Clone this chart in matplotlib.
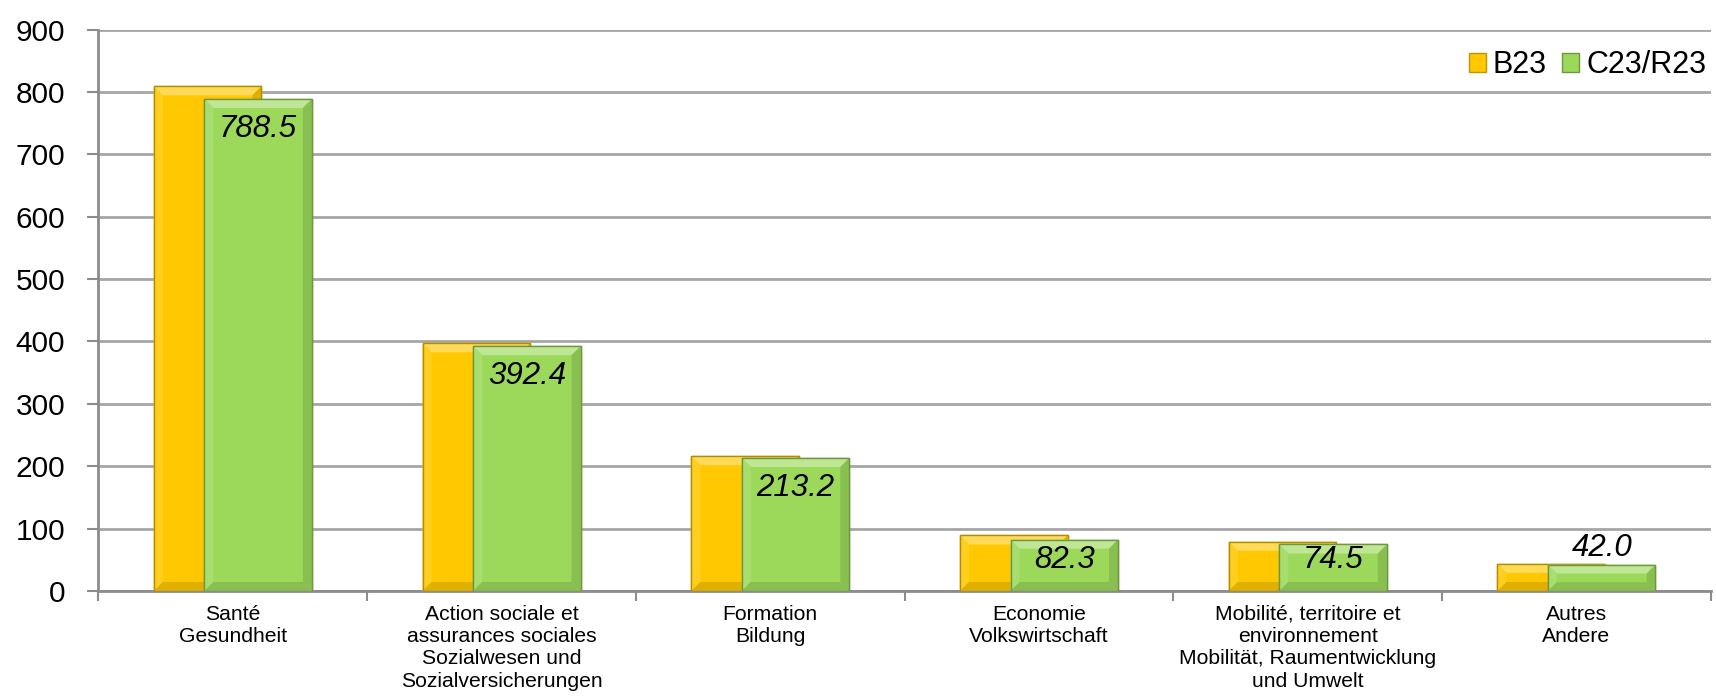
import numpy as np
import matplotlib
matplotlib.use("Agg")
import matplotlib.pyplot as plt
from matplotlib.patches import Patch, Polygon
from matplotlib.colors import to_rgb
from matplotlib.transforms import IdentityTransform

plt.rcParams['font.family'] = ['Liberation Sans', 'DejaVu Sans']

# data
categories = [
    "Santé\nGesundheit",
    "Action sociale et\nassurances sociales\nSozialwesen und\nSozialversicherungen",
    "Formation\nBildung",
    "Economie\nVolkswirtschaft",
    "Mobilité, territoire et\nenvironnement\nMobilität, Raumentwicklung\nund Umwelt",
    "Autres\nAndere",
]
b23 = [809, 397, 216, 89, 79, 43.5]
c23 = [788.5, 392.4, 213.2, 82.3, 74.5, 42.0]
series_names = ["B23", "C23/R23"]
yticks = [0, 100, 200, 300, 400, 500, 600, 700, 800, 900]

yellow = "#FFC800"
green = "#9CD95B"
grid_col = "#A6A6A6"
axis_col = "#8C8C8C"


def shade(col, f):
    # f > 0 lighten towards white, f < 0 darken towards black
    r = np.array(to_rgb(col))
    if f >= 0:
        return tuple(r + (1 - r) * f)
    return tuple(r * (1 + f))


fig = plt.figure(figsize=(17.16, 6.96), dpi=100)
ax = fig.add_axes([0.0574, 0.1509, 0.9396, 0.8067])

x = np.arange(len(categories))
w = 0.40
off = 0.094

bars_b = ax.bar(x - off, b23, w, color=yellow, edgecolor=shade(yellow, -0.2),
                linewidth=1, zorder=3)
bars_c = ax.bar(x + off, c23, w, color=green, edgecolor=shade(green, -0.3),
                linewidth=1, zorder=4)

ax.set_xlim(-0.5, len(categories) - 0.5)
ax.set_ylim(0, 900)
ax.set_yticks(yticks)
ax.tick_params(axis='y', labelsize=21.5, length=8, width=1.5, color=axis_col, pad=16)

# category boundaries get ticks, centers get labels
ax.set_xticks(np.arange(len(categories) + 1) - 0.5)
ax.set_xticklabels([])
ax.set_xticks(x, minor=True)
ax.set_xticklabels(categories, minor=True, fontsize=15.2, linespacing=1.22)
ax.tick_params(axis='x', which='major', length=7, width=1.5, color=axis_col, direction='out')
ax.tick_params(axis='x', which='minor', length=0, pad=10)

ax.grid(axis='y', color=grid_col, linewidth=2, zorder=0)
ax.set_axisbelow(True)
for s in ['top', 'right']:
    ax.spines[s].set_visible(False)
for s in ['left', 'bottom']:
    ax.spines[s].set_color(axis_col)
    ax.spines[s].set_linewidth(2)

# bevel effect drawn in pixel space around each bar
fig.canvas.draw()
bev = 9
for bars, col, z in [(bars_b, yellow, 3.5), (bars_c, green, 4.5)]:
    for r in bars:
        (x0, y0), (x1, y1) = ax.transData.transform(
            [(r.get_x(), 0), (r.get_x() + r.get_width(), r.get_height())])
        b = min(bev, (y1 - y0) / 3)
        faces = [
            ([(x0, y1), (x1, y1), (x1 - b, y1 - b), (x0 + b, y1 - b)], 0.35),
            ([(x0, y0), (x0, y1), (x0 + b, y1 - b), (x0 + b, y0 + b)], 0.12),
            ([(x1, y0), (x1, y1), (x1 - b, y1 - b), (x1 - b, y0 + b)], -0.12),
            ([(x0, y0), (x1, y0), (x1 - b, y0 + b), (x0 + b, y0 + b)], -0.12),
        ]
        for pts, f in faces:
            ax.add_patch(Polygon(pts, closed=True, transform=IdentityTransform(),
                                 facecolor=shade(col, f), edgecolor='none', zorder=z))
        ax.add_patch(Polygon([(x0, y0), (x1, y0), (x1, y1), (x0, y1)], closed=True,
                             transform=IdentityTransform(), facecolor='none',
                             edgecolor=shade(col, -0.3), linewidth=1, zorder=z))
ax.set_xlim(-0.5, len(categories) - 0.5)
ax.set_ylim(0, 900)

# value labels for C23/R23
for xi, v in zip(x, c23):
    if v > 100:
        xy, dy = (xi + off, v), -30
    elif v > 60:
        xy, dy = (xi + off, 0), 31
    else:
        xy, dy = (xi + off, v), 17
    ax.annotate(f"{v:.1f}", xy=xy, xytext=(0, dy), textcoords='offset pixels',
                ha='center', va='center', fontsize=22.5, style='italic',
                color='black', zorder=10)

handles = [Patch(facecolor=yellow, edgecolor=shade(yellow, -0.25)),
           Patch(facecolor=green, edgecolor=shade(green, -0.3))]
fig.legend(handles, series_names, loc='center right', bbox_to_anchor=(0.9945, 0.9066),
           ncol=2, frameon=False, fontsize=22, handlelength=0.56, handleheight=0.56,
           handletextpad=0.23, columnspacing=0.5, borderpad=0, borderaxespad=0)

fig.savefig("out.png", dpi=100)
